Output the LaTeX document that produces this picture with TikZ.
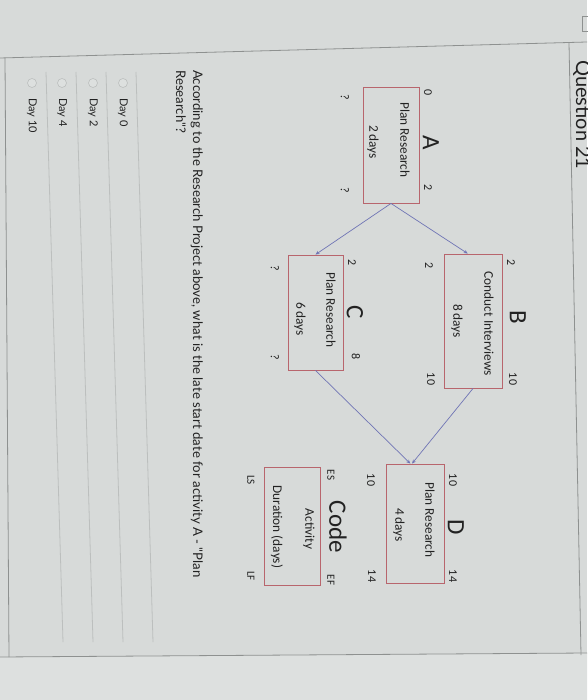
\documentclass[tikz,border=0pt]{standalone}
\usepackage{fontspec}
\setmainfont{Carlito}
\newfontfamily\qfont{Lato}
\usetikzlibrary{calc,arrows.meta}
\definecolor{bg}{HTML}{D7DAD9}
\definecolor{bglight}{HTML}{DDE0DF}
\definecolor{frame}{HTML}{8E9190}
\definecolor{sep}{HTML}{BCBFBE}
\definecolor{ink}{HTML}{222222}
\definecolor{boxred}{HTML}{B8656D}
\definecolor{linkblue}{HTML}{7075B5}
\tikzset{
  box/.style={draw=boxred,line width=0.9pt,inner sep=0pt},
  conn/.style={draw=linkblue,line width=0.7pt,-{Stealth[length=4pt,width=3.5pt]}},
  lbl/.style={rotate=-90,text=ink,inner sep=0pt,font=\fontsize{13.3}{16}\selectfont},
  num/.style={rotate=-90,text=ink,inner sep=0pt,font=\fontsize{12}{14}\selectfont},
  small/.style={rotate=-90,text=ink,inner sep=0pt,font=\fontsize{11}{13}\selectfont},
  big/.style={rotate=-90,text=ink,inner sep=0pt,font=\fontsize{25}{30}\selectfont},
  qtext/.style={rotate=-90,text=ink,inner sep=0pt,anchor=base west,font=\qfont\fontsize{13.2}{16}\selectfont},
  opt/.style={rotate=-90,text=ink,inner sep=0pt,anchor=west,font=\qfont\fontsize{11}{13}\selectfont},
  frameline/.style={draw=frame,line width=0.8pt},
  sepline/.style={draw=sep,line width=0.8pt},
  radio/.style={draw=sep,fill=bglight,line width=0.6pt}
}
\begin{document}
\begin{tikzpicture}[x=1pt,y=-1pt]
\useasboundingbox (0,0) rectangle (587,700);
\fill[bg] (0,0) rectangle (587,700);
\fill[bglight] (0,657) -- (587,653) -- (587,700) -- (0,700) -- cycle;
% panel frame
\draw[frameline] (0,58) -- (587,42);
\draw[frameline] (569,43) -- (581,655);
\draw[frameline] (0,657) -- (587,653);
\draw[frameline] (5,58) -- (9,657);
% header (cut by the page edge, as in the photo)
\node[rotate=-90,text=ink,inner sep=0pt,anchor=base west,font=\qfont\fontsize{20}{24}\selectfont] (hdr) at (576,60) {Question 21};
\draw[frame,line width=0.8pt] (588,16) -- (582,16) -- (582,31) -- (588,31);
% boxes
\node[box,minimum width=56pt,minimum height=116pt] (A) at (391,145) {};
\node[box,minimum width=58pt,minimum height=134pt] (B) at (473,321) {};
\node[box,minimum width=55pt,minimum height=115pt] (C) at (315.5,312.5) {};
\node[box,minimum width=58pt,minimum height=119pt] (D) at (415,523.5) {};
\node[box,minimum width=56pt,minimum height=118pt] (K) at (292,526) {};
% connectors
\draw[conn] (A.south) -- ($(B.north west)!0.41!(B.north east)$);
\draw[conn] (A.south) -- (C.north);
\draw[conn] (B.south) -- ($(D.north west)!0.45!(D.north east)$);
\draw[conn] (C.south) -- ($(D.north west)!0.42!(D.north east)$);
% A
\node[lbl] (a1) at (405,140) {Plan Research};
\node[lbl] (a2) at (373,142) {2 days};
\node[big] (a3) at (431,143) {A};
\node[num] (a4) at (428,93) {0};
\node[num] (a5) at (428,188) {2};
\node[num] (a6) at (345,97) {?};
\node[num] (a7) at (345,190) {?};
% B
\node[lbl] (b1) at (489,324) {Conduct Interviews};
\node[lbl] (b2) at (457,321) {8 days};
\node[big] (b3) at (518,317) {B};
\node[num] (b4) at (511,263) {2};
\node[num] (b5) at (513,379) {10};
\node[num] (b6) at (429,266) {2};
\node[num] (b7) at (431,379) {10};
% C
\node[lbl] (c1) at (331,310) {Plan Research};
\node[lbl] (c2) at (300,319) {6 days};
\node[big] (c3) at (355,312) {C};
\node[num] (c4) at (352,263) {2};
\node[num] (c5) at (356,357) {8};
\node[num] (c6) at (275,268) {?};
\node[num] (c7) at (275,357) {?};
% D
\node[lbl] (d1) at (430,520) {Plan Research};
\node[lbl] (d2) at (399,525) {4 days};
\node[big] (d3) at (456,527) {D};
\node[num] (d4) at (453,480) {10};
\node[num] (d5) at (453,576) {14};
\node[num] (d6) at (371,480) {10};
\node[num] (d7) at (372,576) {14};
% legend
\node[big] (k1) at (338,527) {Code};
\node[small] (k2) at (331,475) {ES};
\node[small] (k3) at (331,580) {EF};
\node[lbl] (k4) at (309,529) {Activity};
\node[lbl] (k5) at (277,527) {Duration (days)};
\node[small] (k6) at (251,480) {LS};
\node[small] (k7) at (251,576) {LF};
% question
\node[qtext] (q1) at (193,70) {According to the Research Project above, what is the late start date for activity A - "Plan};
\node[qtext] (q2) at (176,70) {Research"?};
% answer separators
\draw[sepline] (136,72) -- (153,642);
\draw[sepline] (106,72) -- (123,642);
\draw[sepline] (76,72) -- (93,642);
\draw[sepline] (46,72) -- (63,642);
% options
\draw[radio] (123,83) circle (4.5);
\node[opt] (o1) at (123,98) {Day 0};
\draw[radio] (93,83) circle (4.5);
\node[opt] (o2) at (93,98) {Day 2};
\draw[radio] (62,83) circle (4.5);
\node[opt] (o3) at (62,98) {Day 4};
\draw[radio] (32,83) circle (4.5);
\node[opt] (o4) at (32,98) {Day 10};
\end{tikzpicture}
\end{document}
